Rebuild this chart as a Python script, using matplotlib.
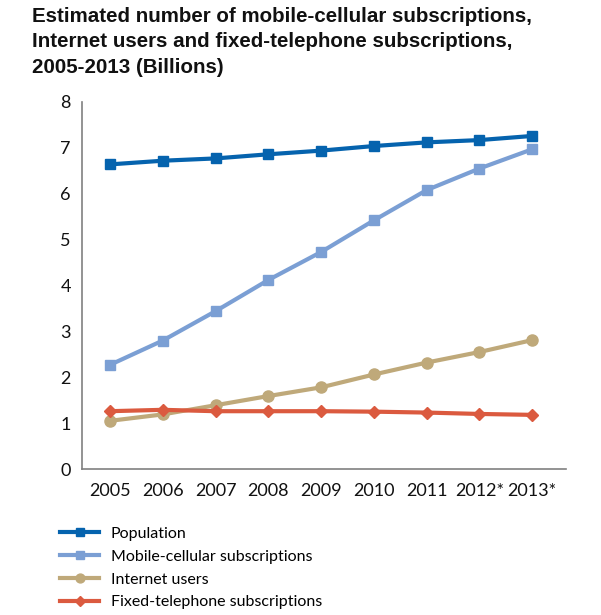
import matplotlib
matplotlib.use("Agg")
import matplotlib.pyplot as plt
from matplotlib.lines import Line2D

years = ["2005", "2006", "2007", "2008", "2009", "2010", "2011", "2012*", "2013*"]
population = [6.64, 6.72, 6.77, 6.86, 6.94, 7.04, 7.12, 7.17, 7.26]
mobile = [2.27, 2.80, 3.44, 4.12, 4.73, 5.42, 6.08, 6.55, 6.97]
internet = [1.05, 1.19, 1.39, 1.59, 1.78, 2.06, 2.32, 2.55, 2.81]
fixed = [1.26, 1.29, 1.26, 1.26, 1.26, 1.25, 1.23, 1.20, 1.18]

series_names = ["Population", "Mobile-cellular subscriptions", "Internet users",
                "Fixed-telephone subscriptions"]
colors = ["#0563ae", "#7b9fd4", "#bfa97a", "#db5a3f"]
markers = ["s", "s", "o", "D"]
msizes = [7.5, 7.5, 8, 6.5]

fig = plt.figure(figsize=(6.01, 6.15), dpi=100)
ax = fig.add_axes([82/601, 1-469/615, (566-82)/601, (469-102)/615])

x = list(range(len(years)))
for vals, c, m, ms, name in zip([population, mobile, internet, fixed], colors, markers, msizes, series_names):
    ax.plot(x, vals, color=c, lw=3, marker=m, markersize=ms, label=name, zorder=3)

ax.set_ylim(0, 8)
ax.set_xlim(-0.53, 8.64)
ax.set_xticks(x)
ax.set_xticklabels(years)
ax.set_yticks(range(0, 9))
ax.tick_params(axis="both", length=0, labelsize=13, colors="#111111")
ax.tick_params(axis="y", pad=8)
ax.tick_params(axis="x", pad=10)
for lab in ax.get_xticklabels() + ax.get_yticklabels():
    lab.set_family("Lato")
for s in ["top", "right"]:
    ax.spines[s].set_visible(False)
for s in ["left", "bottom"]:
    ax.spines[s].set_color("#808080")
    ax.spines[s].set_linewidth(1.2)

fig.text(32/601, 1-7/615,
         "Estimated number of mobile-cellular subscriptions,\nInternet users and fixed-telephone subscriptions,\n2005-2013 (Billions)",
         ha="left", va="top", fontsize=14.8, fontweight="bold", family="Liberation Sans",
         linespacing=1.42, color="#111111")

handles = [Line2D([0], [0], color=c, lw=3, marker=m, markersize=ms*0.8) for c, m, ms in zip(colors, markers, msizes)]
fig.legend(handles, series_names, loc="upper left", bbox_to_anchor=(54/601, 1-520/615),
           frameon=False, prop={"family": "Lato", "size": 11.5}, handlelength=2.4,
           labelspacing=0.55, handletextpad=0.75, borderaxespad=0)

fig.savefig("out.png", dpi=100, facecolor="white")
